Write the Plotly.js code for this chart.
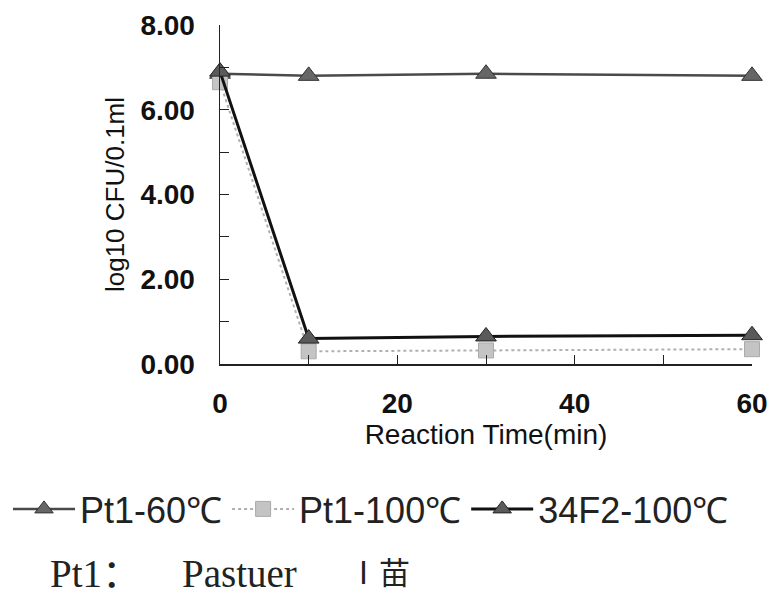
<!DOCTYPE html>
<html>
<head>
<meta charset="utf-8">
<script src="https://cdn.plot.ly/plotly-3.0.1.min.js"></script>
<style>body{margin:0;background:#fff}#chart{width:771px;height:596px}</style>
</head>
<body>
<div id="chart"></div>
<script>
var times = [0, 10, 30, 60];
var pt1_60 = [6.85, 6.8, 6.85, 6.8];
var pt1_100 = [6.65, 0.3, 0.32, 0.35];
var f34_100 = [6.9, 0.6, 0.65, 0.68];
var seriesNames = ['Pt1-60℃', 'Pt1-100℃', '34F2-100℃'];
var yTickVals = [0, 2, 4, 6, 8];
var yTickText = ['0.00', '2.00', '4.00', '6.00', '8.00'];
var xTickVals = [0, 20, 40, 60];
var noteParts = ['Pt1：', 'Pastuer', 'Ⅰ苗'];

var traces = [
  {x: times, y: pt1_60, name: seriesNames[0], mode: 'lines+markers', cliponaxis: false,
   line: {color: '#4a4a4a', width: 2.5},
   marker: {symbol: 'triangle-up', size: 18, color: '#666666', line: {color: '#333333', width: 1}}},
  {x: times, y: pt1_100, name: seriesNames[1], mode: 'lines+markers', cliponaxis: false,
   line: {color: '#b0b0b0', width: 2, dash: 'dot'},
   marker: {symbol: 'square', size: 15, color: '#c4c4c4', line: {color: '#aaaaaa', width: 1}}},
  {x: times, y: f34_100, name: seriesNames[2], mode: 'lines+markers', cliponaxis: false,
   line: {color: '#111111', width: 3},
   marker: {symbol: 'triangle-up', size: 18, color: '#5a5a5a', line: {color: '#222222', width: 1}}}
];

var serif = 'Liberation Serif, Noto Sans CJK SC, serif';
var noteX = [48, 180, 346];
var noteSize = [39, 39, 31];
var annotations = noteParts.map(function (t, i) {
  return {xref: 'paper', yref: 'paper', x: (noteX[i] - 220) / 532, y: (364 - 573) / 339,
          xanchor: 'left', yanchor: 'middle', showarrow: false, text: t,
          font: {family: serif, size: noteSize[i], color: '#222'}};
});

var layout = {
  width: 771, height: 596,
  margin: {l: 220, r: 19, t: 25, b: 232, autoexpand: false},
  paper_bgcolor: '#fff', plot_bgcolor: '#fff',
  font: {family: 'Liberation Sans, Arial, sans-serif', color: '#111'},
  showlegend: true,
  legend: {orientation: 'h', traceorder: 'normal', xref: 'paper', yref: 'paper',
           x: (8 - 220) / 532, y: (364 - 479) / 339, xanchor: 'left', yanchor: 'top', bgcolor: 'rgba(0,0,0,0)',
           font: {family: 'Liberation Sans, Arial, sans-serif', size: 36, color: '#222'},
           itemwidth: 62, itemsizing: 'trace'},
  xaxis: {range: [0, 60], tickvals: xTickVals, ticks: 'inside', ticklen: 9, tickcolor: '#222',
          showline: true, linecolor: '#222', linewidth: 1.5, showgrid: false, zeroline: false,
          tickfont: {size: 28, color: '#111', weight: 'bold'}, ticklabelstandoff: 14, automargin: false,
          minor: {dtick: 10, ticks: 'inside', ticklen: 9, tickcolor: '#222'},
          title: {text: 'Reaction Time(min)', font: {size: 28, color: '#111'}, standoff: 0}},
  yaxis: {range: [0, 8], tickvals: yTickVals, ticktext: yTickText, ticks: 'inside', ticklen: 9, tickcolor: '#222',
          showline: true, linecolor: '#222', linewidth: 1.5, showgrid: false, zeroline: false,
          tickfont: {size: 28, color: '#111', weight: 'bold'}, ticklabelstandoff: 18, automargin: false,
          minor: {dtick: 1, ticks: 'inside', ticklen: 9, tickcolor: '#222'},
          title: {text: 'log10 CFU/0.1ml', font: {size: 26, color: '#111'}, standoff: 8}},
  annotations: annotations
};

Plotly.newPlot('chart', traces, layout, {displayModeBar: false, staticPlot: true});
</script>
</body>
</html>
